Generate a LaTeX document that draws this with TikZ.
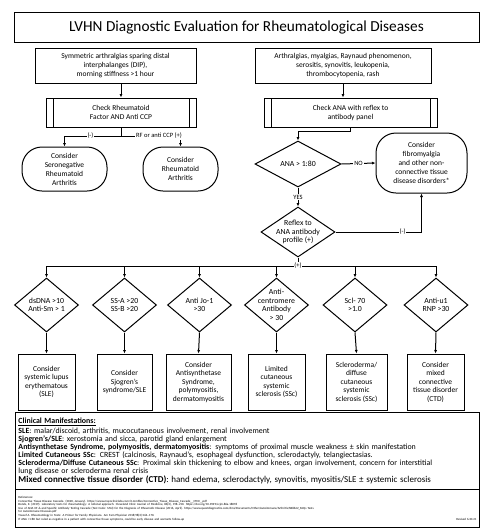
\documentclass[tikz,border=0pt]{standalone}
\usepackage{fontspec}
\setmainfont{Carlito}
\usetikzlibrary{shapes.geometric,arrows.meta}

\begin{document}
\begin{tikzpicture}[x=1pt,y=-1pt,line width=1pt,
    box/.style={draw,rectangle,align=center,inner sep=1pt,font=\fontsize{7.5}{9}\selectfont},
    proc/.style={box,path picture={\draw
        ([xshift=7pt]path picture bounding box.north west) -- ([xshift=7pt]path picture bounding box.south west)
        ([xshift=-7pt]path picture bounding box.north east) -- ([xshift=-7pt]path picture bounding box.south east);}},
    term/.style={box,rounded corners=20pt},
    dia/.style={draw,diamond,align=center,inner sep=-6pt,font=\fontsize{7.8}{8.5}\selectfont},
    res/.style={box,minimum height=56,font=\fontsize{7.5}{8.5}\selectfont},
    arr/.style={-{Latex[length=3.5pt,width=3pt]}},
    lbl/.style={fill=white,inner sep=0.8pt,font=\fontsize{6.5}{7}\selectfont}]
    \useasboundingbox (0,0) rectangle (482,531);

    \node[draw,minimum width=465,minimum height=30,font=\fontsize{15.3}{18}\selectfont] (title) at (246.5,27)
        {LVHN Diagnostic Evaluation for Rheumatological Diseases}; %Title

    % left branch
    \node[box,minimum width=161,minimum height=35] (sympL) at (115.5,65.5)
        {Symmetric arthralgias sparing distal\\interphalanges (DIP),\\morning stiffness >1 hour};
    \node[proc,minimum width=150,minimum height=29] (rf) at (121,112.5) {Check Rheumatoid\\Factor AND Anti CCP};
    \node[term,minimum width=85,minimum height=44] (sero) at (64.5,169) {Consider\\Seronegative\\Rheumatoid\\Arthritis};
    \node[term,minimum width=75,minimum height=44] (ra) at (180.5,169) {Consider\\Rheumatoid\\Arthritis};
    \coordinate (rfj) at (121,136);
    \draw[arr] (rf.north |- sympL.south) -- (rf.north);
    \draw (rf.south) -- (rfj);
    \draw[arr] (rfj) -| node[lbl,pos=0.27] {(-)} (sero.north);
    \draw[arr] (rfj) -| (ra.north);
    \node[lbl] (rfpos) at (159,136) {RF or anti CCP (+)};

    % right branch
    \node[box,minimum width=176,minimum height=35] (sympR) at (343,65.5)
        {Arthralgias, myalgias, Raynaud phenomenon,\\serositis, synovitis, leukopenia,\\thrombocytopenia, rash};
    \node[proc,minimum width=173,minimum height=29] (ana) at (350.5,112.5) {Check ANA with reflex to\\antibody panel};
    \node[dia,minimum width=86,minimum height=46] (anad) at (298,164) {ANA > 1:80};
    \node[term,minimum width=91,minimum height=60] (fibro) at (421.5,163)
        {Consider\\fibromyalgia\\and other non-\\connective tissue\\disease disorders*};
    \node[dia,minimum width=74,minimum height=50] (refl) at (298,232) {Reflex to\\ANA antibody\\profile (+)};
    \draw[arr] (sympR.south) -- (sympR.south |- ana.north);
    \draw[arr] (ana.south) -- ++(0,4) -| (anad.north);
    \draw[arr] (anad.east) -- node[lbl] {NO} (fibro.west);
    \draw[arr] (anad.south) -- node[lbl] {YES} (refl.north);
    \draw[arr] (refl.east) -| node[lbl,pos=0.39] {(-)} (fibro.south);

    % antibodies
    \foreach \i/\x/\t in {1/46.5/{dsDNA >10\\Anti-Sm > 1},2/124.5/{SS-A >20\\SS-B >20},3/199.5/{Anti Jo-1\\>30},
        4/276.5/{Anti-\\centromere\\Antibody\\> 30},5/355/{Scl- 70\\>1.0},6/436/{Anti-u1\\RNP >30}}
        \node[dia,minimum width=64,minimum height=54] (d\i) at (\x,305) {\t};
    \foreach \i/\x/\w/\t in {1/46.5/57/{Consider\\systemic lupus\\erythematous\\(SLE)},2/124.5/55/{Consider\\Sjogren's\\syndrome/SLE},
        3/198.5/65/{Consider\\Antisynthetase\\Syndrome,\\polymyositis,\\dermatomyositis},4/276.5/57/{Limited\\cutaneous\\systemic\\sclerosis (SSc)},
        5/356.5/61/{Scleroderma/\\diffuse\\cutaneous\\systemic\\sclerosis (SSc)},6/435.5/57/{Consider\\mixed\\connective\\tissue disorder\\(CTD)}}
        \node[res,minimum width=\w] (r\i) at (\x,382) {\t};
    \coordinate (plus) at (298,266);
    \draw (refl.south) -- (plus);
    \draw (d1.north |- plus) -- (d6.north |- plus);
    \foreach \i in {1,...,6} {
        \draw[arr] (d\i.north |- plus) -- (d\i.north);
        \draw[arr] (d\i.south) -- (r\i.north);
    }
    \node[lbl] (pluslbl) at (plus) {(+)};

    % clinical manifestations
    \node[draw,anchor=north west,minimum width=464,minimum height=77,text width=458,inner xsep=3pt,inner ysep=1pt,
        align=left,font=\fontsize{7.9}{8}\selectfont] (clin) at (15,412)
        {\textbf{\underline{Clinical Manifestations:}}\\[2pt]
         \textbf{SLE}: malar/discoid, arthritis, mucocutaneous involvement, renal involvement\\
         \textbf{Sjogren's/SLE}: xerostomia and sicca, parotid gland enlargement\\
         \textbf{Antisynthetase Syndrome, polymyositis, dermatomyositis}: symptoms of proximal muscle weakness ± skin manifestation\\
         \textbf{Limited Cutaneous SSc}: CREST (calcinosis, Raynaud's, esophageal dysfunction, sclerodactyly, telangiectasias.\\
         \textbf{Scleroderma/Diffuse Cutaneous SSc}: Proximal skin thickening to elbow and knees, organ involvement, concern for interstitial\\
         lung disease or scleroderma renal crisis\\
         {\fontsize{9}{9.5}\selectfont\textbf{Mixed connective tissue disorder (CTD)}: hand edema, sclerodactyly, synovitis, myositis/SLE ± systemic sclerosis}};

    % references
    \node[draw,anchor=north west,minimum width=464,minimum height=38,text width=458,inner xsep=3pt,inner ysep=2pt,
        align=left,font=\fontsize{3.1}{3.6}\selectfont] (refs) at (15,489)
        {References:\\
         Connective Tissue Disease Cascade. (2020, January). https://www.mayocliniclabs.com/it-mmfiles/Connective\_Tissue\_Disease\_Cascade\_\_CTDC\_.pdf\\
         Bonds, E. (2019). Laboratory tests for rheumatology: A rational approach. Cleveland Clinic Journal of Medicine, 86(3), 198--210. https://doi.org/10.3949/ccjm.86a.18078\\
         Use of ANA IIF \& and Specific Antibody Testing Cascade (Test Code: MAI) for the Diagnosis of Rheumatic Disease (2016, April). https://www.questdiagnostics.com/dms/Documents/Other/Autoimmune/Arthritis/SB8642\_FAQs Tests\\
         for Autoimmune Diseases.pdf\\
         Yousef A. Rheumatology in Tests: A Primer for Family Physicians. Am Fam Physician 2018;98(3):164--170.\\
         *If ANA >1:80 but ruled as negative in a patient with connective tissue symptoms, could be early disease and warrants follow-up\hfill Revised 6.30.21};
\end{tikzpicture}
\end{document}
